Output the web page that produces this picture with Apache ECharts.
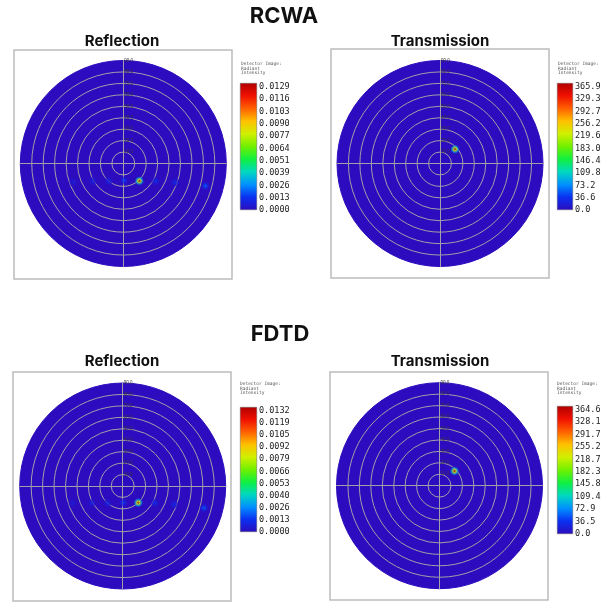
<!DOCTYPE html>
<html>
<head>
<meta charset="utf-8">
<script src="https://cdn.jsdelivr.net/npm/echarts@6.0.0/dist/echarts.min.js"></script>
<style>
  html, body { margin: 0; background: #fff; }
  #chart { width: 611px; height: 608px; }
</style>
</head>
<body>
<div id="chart"></div>
<script>
// spot positions in degrees (x right, y up) and peak intensity
const rcwaReflX = [-43.7, -26.7, -12.8, 0.6, 14.0, 28.3, 45.2, 71.7]
const rcwaReflY = [-16.1, -15.5, -15.5, -14.9, -15.2, -15.5, -16.3, -19.6]
const rcwaReflI = [0.0008, 0.0010, 0.0012, 0.0017, 0.0129, 0.0014, 0.0013, 0.0024]

const rcwaTransX = [13.1]
const rcwaTransY = [12.5]
const rcwaTransI = [365.9]

const fdtdReflX = [-43.7, -27.1, -13.1, 0.5, 13.6, 28.2, 44.8, 71.0]
const fdtdReflY = [-15.1, -14.9, -14.9, -14.6, -14.6, -14.9, -16.0, -19.2]
const fdtdReflI = [0.0008, 0.0010, 0.0012, 0.0017, 0.0132, 0.0014, 0.0013, 0.0024]

const fdtdTransX = [13.1]
const fdtdTransY = [12.8]
const fdtdTransI = [364.6]

// colorbar tick labels, bottom to top
const rcwaReflTicks = ['0.0000', '0.0013', '0.0026', '0.0039', '0.0051', '0.0064', '0.0077', '0.0090', '0.0103', '0.0116', '0.0129']
const rcwaTransTicks = ['0.0', '36.6', '73.2', '109.8', '146.4', '183.0', '219.6', '256.2', '292.7', '329.3', '365.9']
const fdtdReflTicks = ['0.0000', '0.0013', '0.0026', '0.0040', '0.0053', '0.0066', '0.0079', '0.0092', '0.0105', '0.0119', '0.0132']
const fdtdTransTicks = ['0.0', '36.5', '72.9', '109.4', '145.8', '182.3', '218.7', '255.2', '291.7', '328.1', '364.6']

const ringMax = 90
const ringStep = 10

const diskColor = '#2c0cbe'
const gridGray = '#a0a0a8'
const jet = [
  [0, '#2c0cbe'], [0.1, '#0a30f0'], [0.2, '#0090ff'], [0.3, '#00d8c0'],
  [0.4, '#10f040'], [0.5, '#70f000'], [0.6, '#d0f000'], [0.7, '#ffc000'],
  [0.8, '#ff6000'], [0.9, '#f01000'], [1, '#b00000']
]

function hex(c) {
  return [1, 3, 5].map(i => parseInt(c.slice(i, i + 2), 16))
}
function cmap(t, a) {
  t = Math.max(0, Math.min(1, t))
  let i = 0
  while (i < jet.length - 2 && t > jet[i + 1][0]) i++
  const [t0, c0] = jet[i], [t1, c1] = jet[i + 1]
  const f = (t - t0) / (t1 - t0)
  const a0 = hex(c0), a1 = hex(c1)
  const rgb = a0.map((v, k) => Math.round(v + (a1[k] - v) * f))
  return 'rgba(' + rgb.join(',') + ',' + (a === undefined ? 1 : a) + ')'
}

const R = 103
const panels = [
  { cx: 123.3, cy: 163.5, xs: rcwaReflX, ys: rcwaReflY, vals: rcwaReflI, ticks: rcwaReflTicks,
    bar: [240, 83, 17, 127], cap: [241, 62], box: [14, 50, 218, 229] },
  { cx: 440, cy: 163.5, xs: rcwaTransX, ys: rcwaTransY, vals: rcwaTransI, ticks: rcwaTransTicks,
    bar: [557, 83, 16, 127], cap: [558, 62], box: [331, 49, 218, 229] },
  { cx: 122.7, cy: 486, xs: fdtdReflX, ys: fdtdReflY, vals: fdtdReflI, ticks: fdtdReflTicks,
    bar: [240, 407, 17, 125], cap: [240, 382], box: [13, 372, 218, 229] },
  { cx: 439.5, cy: 485.7, xs: fdtdTransX, ys: fdtdTransY, vals: fdtdTransI, ticks: fdtdTransTicks,
    bar: [557, 406, 16, 128], cap: [557, 382], box: [330, 372, 218, 228] }
]

const ringColors = []
for (let r = 0; r <= ringMax; r += ringStep) ringColors.push(r === ringMax ? diskColor : gridGray)

const option = {
  animation: false,
  backgroundColor: '#fff',
  polar: [], angleAxis: [], radiusAxis: [],
  grid: [], xAxis: [], yAxis: [], series: [], graphic: []
}

panels.forEach((p, i) => {
  option.polar.push({ center: [p.cx, p.cy], radius: R })
  // disk fill
  option.angleAxis.push({
    polarIndex: i, type: 'value', min: 0, max: 360, interval: 90, startAngle: 90, z: 0,
    axisLine: { show: false }, axisTick: { show: false }, axisLabel: { show: false },
    splitLine: { show: false },
    splitArea: { show: true, areaStyle: { color: [diskColor] } }
  })
  // rings
  option.radiusAxis.push({
    polarIndex: i, type: 'value', min: 0, max: ringMax, interval: ringStep, z: 1,
    axisLine: { show: false }, axisTick: { show: false }, axisLabel: { show: false },
    splitLine: { show: true, lineStyle: { color: ringColors, width: 1 } }
  })

  // cartesian overlay, same square as the disk: crosshair, ring labels, spots
  option.grid.push({ left: p.cx - R, top: p.cy - R, width: 2 * R, height: 2 * R })
  option.xAxis.push({
    gridIndex: i, type: 'value', min: -ringMax, max: ringMax, z: 2,
    axisLine: { show: true, onZero: true, lineStyle: { color: gridGray, width: 1 } },
    axisTick: { show: false }, axisLabel: { show: false }, splitLine: { show: false }
  })
  option.yAxis.push({
    gridIndex: i, type: 'value', min: -ringMax, max: ringMax, interval: ringStep, z: 2,
    position: 'left', offset: -R,
    axisLine: { show: true, onZero: false, lineStyle: { color: gridGray, width: 1 } },
    axisTick: { show: false }, splitLine: { show: false },
    axisLabel: {
      inside: true, margin: 1, fontSize: 4.5, color: '#3a3a3a',
      formatter: v => (v > 0 ? v.toFixed(1) : '')
    }
  })
  const vmax = parseFloat(p.ticks[p.ticks.length - 1])
  option.series.push({
    type: 'scatter', xAxisIndex: i, yAxisIndex: i, silent: true, z: 3,
    symbolSize: 10,
    data: p.xs.map((x, k) => [x, p.ys[k], p.vals[k]]),
    itemStyle: {
      color: params => {
        const t = params.value[2] / vmax
        return new echarts.graphic.RadialGradient(0.5, 0.5, 0.5, [
          { offset: 0, color: cmap(t) },
          { offset: 0.3, color: cmap(t * 0.6) },
          { offset: 0.65, color: cmap(t * 0.25, 0.8) },
          { offset: 1, color: cmap(0, 0) }
        ])
      }
    }
  })
})

// colorbars
panels.forEach((p, i) => {
  const g = panels.length + i
  const [bx, by, bw, bh] = p.bar
  option.grid.push({ left: bx, top: by, width: bw, height: bh })
  option.xAxis.push({ gridIndex: g, type: 'category', data: [''], show: false })
  option.yAxis.push({
    gridIndex: g, type: 'value', min: 0, max: 10.3, interval: 1, position: 'right',
    axisLine: { show: false }, axisTick: { show: false }, splitLine: { show: false },
    axisLabel: {
      margin: 2, fontFamily: 'DejaVu Sans Mono', fontSize: 8.5, color: '#222',
      formatter: v => (Number.isInteger(v) && p.ticks[v] !== undefined ? p.ticks[v] : '')
    }
  })
  option.series.push({
    type: 'bar', xAxisIndex: g, yAxisIndex: g, silent: true, barWidth: '100%',
    data: [10.3],
    itemStyle: {
      borderColor: '#666', borderWidth: 0.5,
      color: new echarts.graphic.LinearGradient(0, 1, 0, 0, jet.map(s => ({ offset: s[0], color: s[1] })))
    }
  })
  option.graphic.push({
    type: 'rect', silent: true, z: 100,
    shape: { x: p.box[0], y: p.box[1], width: p.box[2], height: p.box[3] },
    style: { fill: 'none', stroke: '#bcbcbc', lineWidth: 1.5 }
  })
  option.graphic.push({
    type: 'text', silent: true, z: 100, x: p.cap[0], y: p.cap[1],
    style: {
      text: 'Detector Image:\nRadiant\nIntensity', fill: '#555',
      font: '4.5px "DejaVu Sans Mono"', lineHeight: 4.5
    }
  })
})

const titles = [
  ['RCWA', 284, 16, 22], ['FDTD', 280, 334, 22],
  ['Reflection', 122, 41, 15], ['Transmission', 440, 41, 15],
  ['Reflection', 122, 361, 15], ['Transmission', 440, 361, 15]
]
titles.forEach(([t, x, y, s]) => {
  option.graphic.push({
    type: 'text', silent: true, z: 100, x: x, y: y,
    style: { text: t, fill: '#111', font: 'bold ' + s + 'px Inter', textAlign: 'center', textVerticalAlign: 'middle' }
  })
})

const chart = echarts.init(document.getElementById('chart'))
chart.setOption(option)
</script>
</body>
</html>
